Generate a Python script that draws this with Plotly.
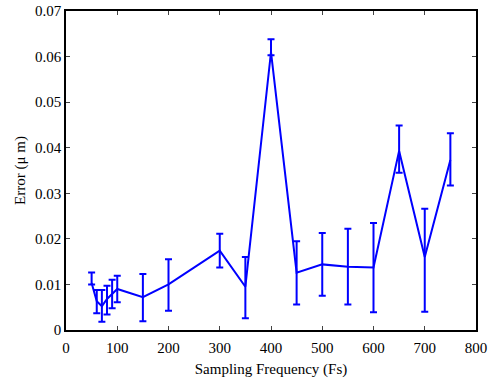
import plotly.graph_objects as go

freq = [50, 60, 70, 80, 90, 100, 150, 200, 300, 350, 400, 450, 500, 550, 600, 650, 700, 750]
err = [0.0103, 0.0063, 0.0052, 0.0068, 0.0079, 0.0090, 0.0072, 0.0100, 0.0174, 0.0095,
       0.0610, 0.0126, 0.0144, 0.0139, 0.0137, 0.0393, 0.0160, 0.0373]
upper = [0.0126, 0.0088, 0.0088, 0.0097, 0.0110, 0.0119, 0.0123, 0.0155, 0.0211, 0.0160,
         0.0638, 0.0195, 0.0213, 0.0222, 0.0235, 0.0449, 0.0266, 0.0432]
lower = [0.0100, 0.0037, 0.0018, 0.0034, 0.0048, 0.0061, 0.0019, 0.0042, 0.0137, 0.0026,
         0.0603, 0.0056, 0.0075, 0.0056, 0.0039, 0.0345, 0.0040, 0.0317]

x_ticks = [0, 100, 200, 300, 400, 500, 600, 700, 800]
y_ticks = [0, 0.01, 0.02, 0.03, 0.04, 0.05, 0.06, 0.07]
y_ticktext = ["0", "0.01", "0.02", "0.03", "0.04", "0.05", "0.06", "0.07"]

plus = [u - v for u, v in zip(upper, err)]
minus = [v - l for v, l in zip(err, lower)]

fig = go.Figure()
fig.add_trace(go.Scatter(
    x=freq, y=err, mode="lines",
    line=dict(color="#0000FF", width=2),
    error_y=dict(type="data", symmetric=False, array=plus, arrayminus=minus,
                 color="#0000FF", thickness=2, width=3.5),
    showlegend=False,
))

font = dict(family="Liberation Serif, serif", size=15, color="black")
fig.update_layout(
    width=492, height=379,
    margin=dict(l=66, r=16, t=11, b=49, autoexpand=False),
    paper_bgcolor="white", plot_bgcolor="white",
    font=font,
    xaxis=dict(range=[0, 800], tickvals=x_ticks, ticks="inside", ticklen=4,
               showgrid=False, zeroline=False, showline=True, linecolor="black",
               linewidth=1.5, mirror="ticks", tickfont=font, ticklabelstandoff=3,
               ticklabeloverflow="allow", automargin=False,
               title=dict(text="Sampling Frequency (Fs)", font=font, standoff=9)),
    yaxis=dict(range=[0, 0.07], tickvals=y_ticks, ticktext=y_ticktext, ticks="inside",
               ticklen=4, showgrid=False, zeroline=False, showline=True,
               linecolor="black", linewidth=1.5, mirror="ticks", tickfont=font,
               ticklabeloverflow="allow", automargin=False,
               title=dict(text="Error (μ m)", font=font, standoff=6)),
)

fig.write_html("out.html", config={"displayModeBar": False},
               post_script="document.body.style.margin='0';")
